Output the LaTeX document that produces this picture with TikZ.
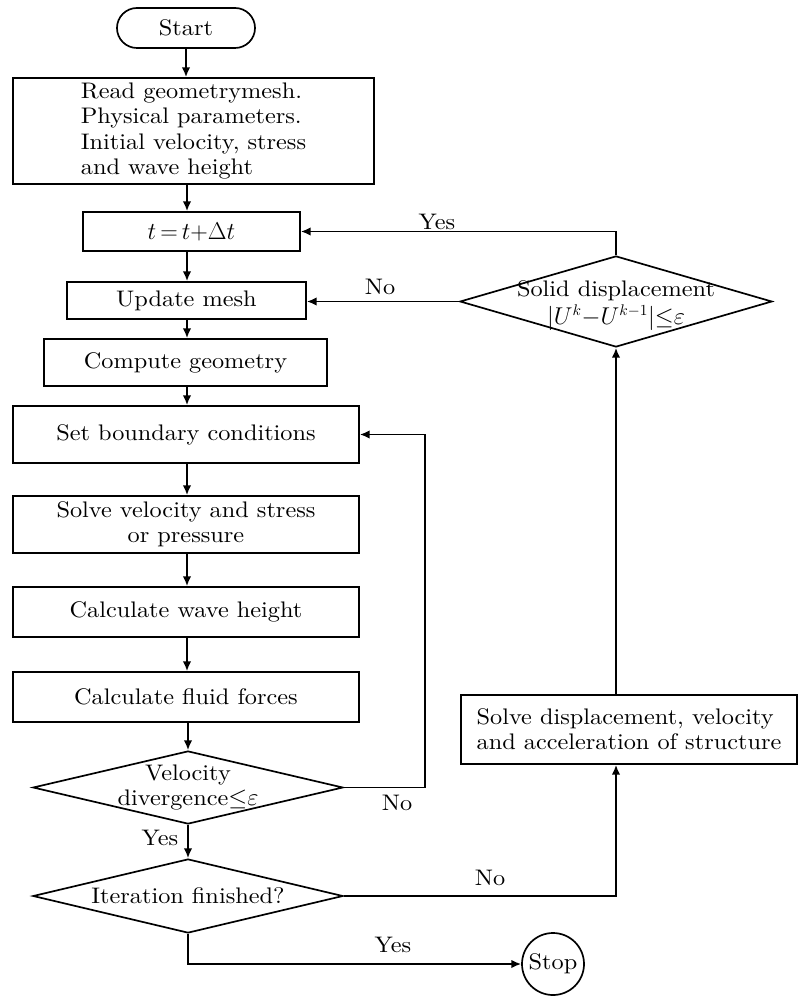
\documentclass[tikz,border=0pt]{standalone}
\usepackage{fontspec}
\setmainfont{lmroman10-regular.otf}[FakeStretch=1.08]
\usetikzlibrary{arrows.meta, positioning, shapes.geometric, calc}

\begin{document}
\begin{tikzpicture}[
  x=0.025cm, y=-0.025cm,
  font=\fontsize{16}{17.8}\selectfont,
  pbox/.style   = {draw, line width=1.2pt, align=center, inner sep=0pt},
  term/.style   = {draw, line width=1.2pt, rounded corners=0.5cm,
                   minimum width=3.45cm, minimum height=1.0cm},
  decide/.style = {draw, diamond, line width=1.2pt, inner sep=0pt},
  arr/.style    = {-{Latex[length=7pt,width=6pt]}, line width=1.2pt},
  lbl/.style    = {inner sep=1pt},
]
\useasboundingbox (0,0) rectangle (799,997);
\coordinate (axis) at (187,0);

%% ── main column ─────────────────────────────────────────────────────────────
\node[term] (start) at (186,28) {Start};
\node[pbox, align=left, minimum width=9.025cm, minimum height=2.65cm] (read) at (193.5,131)
  {Read geometrymesh.\\Physical parameters.\\Initial velocity, stress\\and wave height};
\node[pbox, minimum width=5.425cm, minimum height=0.975cm] (tstep) at (191.5,231.5) {$t\,{=}\,t{+}\Delta t$};
\node[pbox, minimum width=5.975cm, minimum height=0.925cm] (upd)   at (186.5,300.5) {Update mesh};
\node[pbox, minimum width=7.075cm, minimum height=1.175cm] (geom)  at (185.5,362.5) {Compute geometry};
\node[pbox, minimum width=8.65cm,  minimum height=1.425cm] (bc)    at (186,434.5) {Set boundary conditions};
\node[pbox, minimum width=8.65cm,  minimum height=1.425cm] (solvev) at (186,524.5)
  {Solve velocity and stress\\or pressure};
\node[pbox, minimum width=8.65cm,  minimum height=1.25cm]  (wave)  at (186,612) {Calculate wave height};
\node[pbox, minimum width=8.65cm,  minimum height=1.25cm]  (force) at (186,697) {Calculate fluid forces};

\node[decide, minimum width=7.75cm, minimum height=1.825cm,
      label={[align=center]center:Velocity\\divergence${\leq}\varepsilon$}] (vdiv) at (188,787.5) {};
\node[decide, minimum width=7.75cm, minimum height=1.85cm,
      label={center:Iteration finished?}] (iter) at (188,896) {};

\node[draw, circle, line width=1.2pt, minimum size=1.55cm, inner sep=0pt] (stop) at (553,964) {Stop};

%% ── structure side ──────────────────────────────────────────────────────────
\node[pbox, align=left, minimum width=8.4cm, minimum height=1.725cm] (sdisp) at (629,729.5)
  {Solve displacement, velocity\\and acceleration of structure};
\node[decide, minimum width=7.8cm, minimum height=2.275cm,
      label={[align=center, yshift=-0.1cm]center:Solid displacement\\[2pt]$|U^k{-}U^{k-1}|{\leq}\varepsilon$}]
  (soldisp) at (616,301.5) {};

%% ── connectors ──────────────────────────────────────────────────────────────
\draw[arr] (start.south) -- (start.south |- read.north);
\draw[arr] (read.south -| axis)  -- (tstep.north -| axis);
\draw[arr] (tstep.south -| axis) -- (upd.north -| axis);
\draw[arr] (upd.south -| axis)   -- (geom.north -| axis);
\draw[arr] (geom.south -| axis)  -- (bc.north -| axis);
\draw[arr] (bc.south -| axis)    -- (solvev.north -| axis);
\draw[arr] (solvev.south -| axis) -- (wave.north -| axis);
\draw[arr] (wave.south -| axis)  -- (force.north -| axis);
\draw[arr] (force.south -| vdiv) -- (vdiv.north);
\draw[arr] (vdiv.south) -- (iter.north);

\draw[arr] (vdiv.east) -| ($(bc.east)+(65,0)$) -- (bc.east);
\draw[arr] (iter.east) -| (sdisp.south -| soldisp.south);
\draw[arr] (iter.south) |- (stop.west);
\draw[arr] (sdisp.north -| soldisp.south) -- (soldisp.south);
\draw[arr] (soldisp.north) |- (tstep.east);
\draw[arr] (soldisp.west) -- (soldisp.west -| upd.east);

%% ── branch labels ───────────────────────────────────────────────────────────
\node[lbl] (yes1) at (437,222) {Yes};
\node[lbl] (no1)  at (380,287) {No};
\node[lbl] (no2)  at (397,803) {No};
\node[lbl] (yes2) at (160,838) {Yes};
\node[lbl] (no3)  at (490,878) {No};
\node[lbl] (yes3) at (393,945) {Yes};

\end{tikzpicture}
\end{document}
